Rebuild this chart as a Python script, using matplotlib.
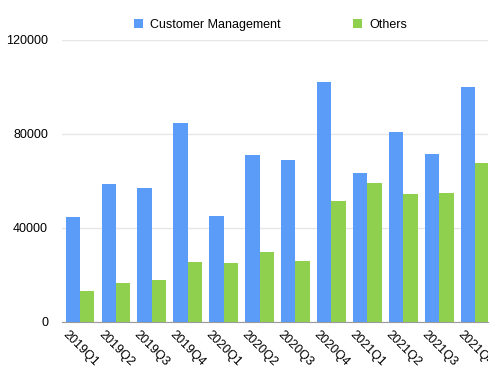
import numpy as np
import matplotlib
matplotlib.use("Agg")
from matplotlib import pyplot as plt
from matplotlib.transforms import Bbox, TransformedBbox

quarters = ["2019Q1", "2019Q2", "2019Q3", "2019Q4", "2020Q1", "2020Q2",
            "2020Q3", "2020Q4", "2021Q1", "2021Q2", "2021Q3", "2021Q4"]
customer_mgmt = [44500, 58600, 57200, 84500, 45300, 71000,
                 69000, 101900, 63300, 80800, 71600, 99900]
others = [13200, 16400, 17900, 25600, 25300, 29800,
          25900, 51400, 59200, 54400, 54700, 67600]
yticks = [0, 40000, 80000, 120000]

plt.rcParams['font.family'] = ['Liberation Sans', 'DejaVu Sans']

fig = plt.figure(figsize=(5, 3.77), dpi=100)
ax = fig.add_axes([0.124, 0.146, 0.852, 0.748])

x = np.arange(len(quarters))
w = 0.4
ax.bar(x - w / 2, customer_mgmt, w, color="#5a9cf8", label="Customer Management", zorder=2)
ax.bar(x + w / 2, others, w, color="#8fd14f", label="Others", zorder=2)

ax.set_xlim(-0.5, 11.36)
ax.set_ylim(0, 120000)
ax.set_yticks(yticks)
ax.set_yticklabels([str(v) for v in yticks], fontsize=9)
ax.set_xticks(x)
ax.set_xticklabels(quarters, rotation=-45, ha="center", va="top", fontsize=9)
ax.tick_params(length=0)
ax.tick_params(axis="y", pad=10)
ax.tick_params(axis="x", pad=5)

ax.grid(axis="y", color="#e6e6e6", linewidth=1, zorder=0)
for s in ["top", "right", "left"]:
    ax.spines[s].set_visible(False)
ax.spines["bottom"].set_color("#9a9a9a")
ax.spines["bottom"].set_zorder(3)

# right side of the original is cut off
clip = TransformedBbox(Bbox([[0, 0], [0.976, 1]]), fig.transFigure)
for lbl in ax.get_xticklabels():
    lbl.set_clip_on(True)
    lbl.set_clip_box(clip)

ax.legend(loc="center", bbox_to_anchor=(0.49, 1.053), ncol=2, frameon=False,
          fontsize=9, handlelength=0.7, handleheight=0.7, columnspacing=5.8,
          handletextpad=0.6)

fig.savefig("out.png", dpi=100)
